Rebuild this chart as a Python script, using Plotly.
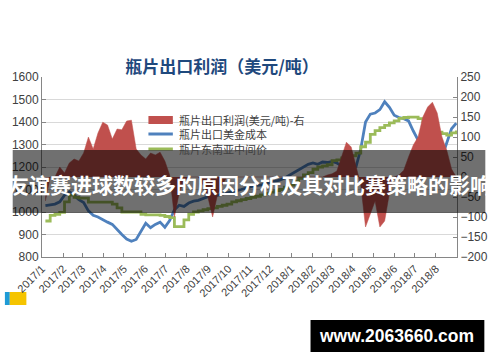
import pandas as pd
import plotly.graph_objects as go

# ---------------- data ----------------
dates = pd.date_range("2017-01-06", periods=87, freq="7D")

profit = [-60, 0, 0, 25, 10, 35, 45, 40, 60, 100,
          70, 110, 137, 130, 95, 120, 118, 140, 142, 70,
          55, 45, 60, 55, 62, 40, 5, -100, -40, -10,
          0, 0, 0, -20, -50, -100, -45, -20, 0, 0,
          0, 0, 0, 0, 0, 0, 0, 0, 0, 0,
          0, 0, 0, 0, 0, 0, 0, 0, 0, 5,
          8, 15, 50, 87, 75, 30, -20, -125, -90, -60,
          -125, -110, -40, 0, 5, 17, 50, 80, 100, 150,
          175, 187, 160, 100, 67, 20, 0]

cost = [1028, 1030, 1035, 1045, 1075, 1090, 1075, 1055, 1042, 1005,
        985, 978, 965, 955, 945, 920, 900, 880, 870, 878,
        915, 950, 930, 945, 955, 932, 962, 1010, 1030, 1025,
        1040, 1048, 1052, 1060, 1068, 1076, 1074, 1080, 1085, 1089,
        1095, 1100, 1107, 1112, 1118, 1120, 1125, 1132, 1138, 1142,
        1150, 1162, 1175, 1188, 1200, 1212, 1218, 1212, 1222, 1220,
        1225, 1218, 1205, 1195, 1185, 1200, 1280, 1400, 1435, 1440,
        1455, 1490, 1465, 1430, 1420, 1415, 1405, 1360, 1320, 1265,
        1215, 1185, 1200, 1245, 1310, 1370, 1395]

sea_price = [960, 985, 990, 998, 1045, 1075, 1065, 1062, 1062, 1044,
             1044, 1044, 1044, 1044, 1035, 1018, 1000, 1000, 1000, 1000,
             990, 987, 987, 987, 985, 980, 975, 935, 935, 965,
             990, 1000, 1005, 1010, 1015, 1018, 1025, 1030, 1035, 1045,
             1050, 1055, 1060, 1065, 1070, 1076, 1082, 1088, 1095, 1100,
             1110, 1120, 1135, 1150, 1165, 1175, 1190, 1200, 1205, 1210,
             1228, 1232, 1240, 1245, 1250, 1262, 1290, 1310, 1345, 1362,
             1375, 1385, 1396, 1405, 1416, 1420, 1422, 1422, 1415, 1400,
             1382, 1372, 1355, 1348, 1342, 1352, 1362]

month_ticks = pd.date_range("2017-01-01", "2018-08-01", freq="MS")
month_labels = ["2017/1", "2017/2", "2017/3", "2017/4", "2017/5", "2017/6",
                "2017/7", "2017/8", "2017/9", "2017/10", "2017/11", "2017/12",
                "2018/1", "2018/2", "2018/3", "2018/4", "2018/5", "2018/6",
                "2018/7", "2018/8"]

names = ["瓶片出口利润(美元/吨)-右", "瓶片出口美金成本", "瓶片东南亚中间价"]
title_text = "瓶片出口利润（美元/吨）"
banner_text = "友谊赛进球数较多的原因分析及其对比赛策略的影响"
site_text = "www.2063660.com"

RED = "#c0504d"
BLUE = "#4f81bd"
GREEN = "#9bbb59"

# ---------------- layout helpers (pixel -> paper) ----------------
W, H = 500, 362
L, R, T, B = 38, 463, 77, 257


def px(x):
    return (x - L) / (R - L)


def py(y):
    return (B - y) / (B - T)


CJK = "Noto Sans CJK SC"
NUM = "Liberation Sans, Arial, sans-serif"

fig = go.Figure()
fig.add_trace(go.Scatter(x=dates, y=profit, name=names[0], yaxis="y2",
                         mode="lines", line=dict(color=RED, width=0.5),
                         fill="tozeroy", fillcolor=RED, showlegend=False))
fig.add_trace(go.Scatter(x=dates, y=cost, name=names[1], mode="lines",
                         line=dict(color=BLUE, width=2.8), showlegend=False))
fig.add_trace(go.Scatter(x=dates, y=sea_price, name=names[2], mode="lines",
                         line=dict(color=GREEN, width=2.8, shape="hv"),
                         showlegend=False))

shapes = []
# legend symbols
shapes.append(dict(type="rect", xref="paper", yref="paper", x0=px(147), x1=px(172),
                   y0=py(116), y1=py(124), fillcolor=RED, line=dict(width=0)))
shapes.append(dict(type="line", xref="paper", yref="paper", x0=px(147), x1=px(172),
                   y0=py(134), y1=py(134), line=dict(color=BLUE, width=3)))
shapes.append(dict(type="line", xref="paper", yref="paper", x0=px(147), x1=px(172),
                   y0=py(149), y1=py(149), line=dict(color=GREEN, width=3)))
# banner overlay
shapes.append(dict(type="rect", xref="paper", yref="paper", x0=px(8), x1=px(492),
                   y0=py(150), y1=py(213), fillcolor="rgba(0,0,0,0.56)",
                   line=dict(width=0), layer="above"))
# site box
shapes.append(dict(type="rect", xref="paper", yref="paper", x0=px(313), x1=px(491),
                   y0=py(320), y1=py(352), fillcolor="#000000",
                   line=dict(width=0), layer="above"))
# small icon bottom-left
shapes.append(dict(type="rect", xref="paper", yref="paper", x0=px(0), x1=px(5),
                   y0=py(292), y1=py(305), fillcolor="#1e9bd7",
                   line=dict(width=0), layer="below"))
shapes.append(dict(type="rect", xref="paper", yref="paper", x0=px(5), x1=px(22),
                   y0=py(292), y1=py(305), fillcolor="#f5c400",
                   line=dict(width=0), layer="below"))

annotations = []
for nm, yy in zip(names, [120, 134, 149]):
    annotations.append(dict(text=nm, xref="paper", yref="paper", x=px(176), y=py(yy),
                            xanchor="left", yanchor="middle", showarrow=False,
                            font=dict(family=CJK, size=11, color="#404040")))
annotations.append(dict(text=banner_text, xref="paper", yref="paper",
                        x=px(250), y=py(184), xanchor="center", yanchor="middle",
                        showarrow=False,
                        font=dict(family=CJK, size=21, color="#ffffff", weight=700)))
annotations.append(dict(text=site_text, xref="paper", yref="paper",
                        x=px(401), y=py(336), xanchor="center", yanchor="middle",
                        showarrow=False,
                        font=dict(family="Liberation Sans, Arial, sans-serif", size=17.5,
                                  color="#ffffff", weight=700)))

fig.update_layout(
    width=W, height=H,
    margin=dict(l=L, r=W - R, t=T, b=H - B, pad=0),
    paper_bgcolor="white", plot_bgcolor="white",
    title=dict(text=title_text, x=222 / W, xanchor="center", y=1 - 67 / H,
               yanchor="middle", xref="container", yref="container",
               font=dict(family=CJK, size=17, color="#1f497d", weight=700)),
    xaxis=dict(type="date", range=["2017-01-01", "2018-09-01"],
               tickvals=list(month_ticks), ticktext=month_labels, tickangle=-45,
               ticks="inside", ticklen=4, tickcolor="#868686",
               showline=True, linecolor="#868686", linewidth=1, showgrid=False,
               tickfont=dict(family=NUM, size=11, color="#404040")),
    yaxis=dict(range=[800, 1600], dtick=100, ticks="inside", ticklen=4,
               tickcolor="#868686", showline=True, linecolor="#868686",
               gridcolor="#d9d9d9", gridwidth=1, zeroline=False,
               tickfont=dict(family=NUM, size=12, color="#404040")),
    yaxis2=dict(range=[-200, 250], dtick=50, overlaying="y", side="right",
                ticks="inside", ticklen=4, tickcolor="#868686", showline=True,
                linecolor="#868686", showgrid=False, zeroline=False,
                tickfont=dict(family=NUM, size=12, color="#404040")),
    shapes=shapes, annotations=annotations, showlegend=False,
)

fig.write_html("out.html")
